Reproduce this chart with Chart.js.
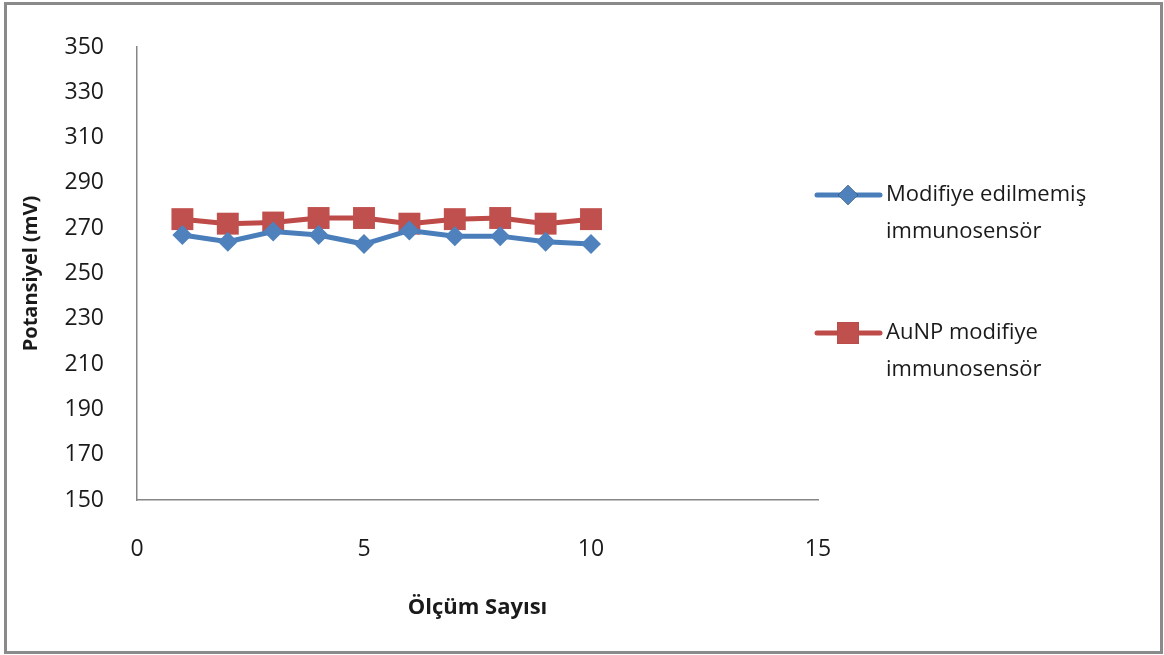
<!DOCTYPE html>
<html>
<head>
<meta charset="utf-8">
<script src="https://cdn.jsdelivr.net/npm/chart.js@4/dist/chart.umd.min.js"></script>
<style>
  html, body { margin: 0; padding: 0; background: #fff; }
  #wrap { position: relative; width: 1164px; height: 655px; }
</style>
</head>
<body>
<div id="wrap"><canvas id="c" width="1164" height="655"></canvas></div>
<script>
// Measurement index (Ölçüm Sayısı)
const measurements = [1, 2, 3, 4, 5, 6, 7, 8, 9, 10];
// Potential (mV) of the unmodified immunosensor
const unmodified = [267, 264, 268.5, 267, 263, 269, 266.5, 266.5, 264, 263];
// Potential (mV) of the AuNP-modified immunosensor
const aunp = [274, 272, 272.5, 274.5, 274.5, 272, 274, 274.5, 272, 274];
// Legend text, one entry per line
const seriesNames = [
  ['Modifiye edilmemiş', 'immunosensör'],
  ['AuNP modifiye', 'immunosensör']
];
const xTitle = 'Ölçüm Sayısı';
const yTitle = 'Potansiyel (mV)';

const FONT = 'Open Sans';
const toPoints = ys => measurements.map((x, i) => ({ x, y: ys[i] }));

// Outer frame around the whole figure
const framePlugin = {
  id: 'frame',
  beforeDraw(chart) {
    const ctx = chart.ctx;
    ctx.save();
    ctx.fillStyle = '#fff';
    ctx.fillRect(0, 0, chart.width, chart.height);
    ctx.strokeStyle = '#8a8a8a';
    ctx.lineWidth = 3;
    ctx.strokeRect(5.5, 3.5, chart.width - 8, chart.height - 6);
    ctx.restore();
  }
};

// Right-hand legend with a line + marker sample and wrapped labels
const sideLegend = {
  id: 'sideLegend',
  afterDraw(chart) {
    const ctx = chart.ctx;
    const tops = [195, 333];
    ctx.save();
    chart.data.datasets.forEach((ds, i) => {
      const y = tops[i];
      ctx.strokeStyle = ds.borderColor;
      ctx.lineWidth = ds.borderWidth;
      ctx.lineCap = 'round';
      ctx.beginPath();
      ctx.moveTo(817, y);
      ctx.lineTo(880, y);
      ctx.stroke();
      Chart.helpers.drawPoint(ctx, {
        pointStyle: ds.pointStyle,
        radius: ds.pointRadius,
        borderWidth: 0
      }, 848, y);
      ctx.fillStyle = ds.pointBackgroundColor;
      ctx.fill();
      ctx.fillStyle = '#1a1a1a';
      ctx.font = '22px "' + FONT + '"';
      ctx.textBaseline = 'middle';
      ctx.textAlign = 'left';
      seriesNames[i].forEach((t, k) => ctx.fillText(t, 886, y + k * 37));
    });
    ctx.restore();
  }
};

new Chart(document.getElementById('c'), {
  type: 'line',
  data: {
    datasets: [
      {
        label: seriesNames[0].join(' '),
        data: toPoints(unmodified),
        borderColor: '#4a7ebb',
        backgroundColor: '#4f81bd',
        pointBackgroundColor: '#4f81bd',
        pointBorderWidth: 0,
        borderWidth: 5,
        pointStyle: 'rectRot',
        pointRadius: 10,
        tension: 0
      },
      {
        label: seriesNames[1].join(' '),
        data: toPoints(aunp),
        borderColor: '#be4b48',
        backgroundColor: '#c0504d',
        pointBackgroundColor: '#c0504d',
        pointBorderWidth: 0,
        borderWidth: 5,
        pointStyle: 'rect',
        pointRadius: 15.5,
        tension: 0
      }
    ]
  },
  options: {
    responsive: false,
    animation: false,
    layout: { padding: { left: 10, top: 47, right: 346, bottom: 34 } },
    plugins: { legend: { display: false }, tooltip: { enabled: false } },
    scales: {
      x: {
        type: 'linear',
        min: 0, max: 15,
        ticks: { stepSize: 5, color: '#1a1a1a', padding: 28, font: { family: FONT, size: 23 } },
        grid: { display: false },
        border: { display: true, color: '#868686', width: 1.5 },
        title: { display: true, text: xTitle, color: '#1a1a1a', padding: { top: 10, bottom: 0 },
                 font: { family: FONT, size: 22, weight: 'bold' } },
        afterFit(s) { s.height = 655 - 500 - 34; }
      },
      y: {
        min: 150, max: 350,
        ticks: { stepSize: 20, color: '#1a1a1a', padding: 25, font: { family: FONT, size: 23 } },
        grid: { display: false },
        border: { display: true, color: '#868686', width: 1.5 },
        title: { display: true, text: yTitle, color: '#1a1a1a', padding: { top: 9, bottom: 0 },
                 font: { family: FONT, size: 20, weight: 'bold' } },
        afterFit(s) { s.width = 137 - 10; }
      }
    }
  },
  plugins: [framePlugin, sideLegend]
});
</script>
</body>
</html>
